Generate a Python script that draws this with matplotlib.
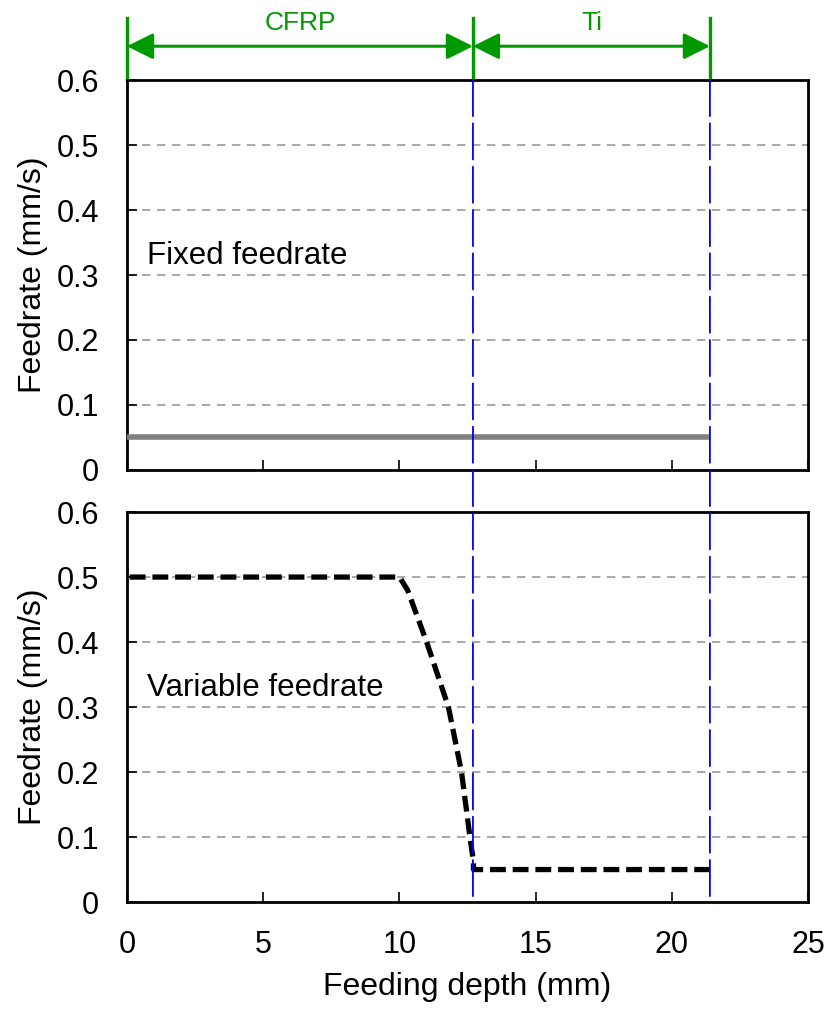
import matplotlib.pyplot as plt
from matplotlib.patches import ConnectionPatch

plt.rcParams['font.family'] = ['Liberation Sans', 'DejaVu Sans']

# layer boundaries (mm)
cfrp_end = 12.7
ti_end = 21.4
layer_names = ['CFRP', 'Ti']

# fixed feedrate
fixed_x = [0, 21.4]
fixed_y = [0.05, 0.05]

# variable feedrate
var_x = [0.1, 10.0, 10.3, 11.0, 11.8, 12.28, 12.59, 12.72, 12.72, 21.4]
var_y = [0.5, 0.5, 0.48, 0.40, 0.30, 0.20, 0.10, 0.062, 0.05, 0.05]

yticks = [0, 0.1, 0.2, 0.3, 0.4, 0.5, 0.6]
ytick_labels = ['0', '0.1', '0.2', '0.3', '0.4', '0.5', '0.6']
xticks = [0, 5, 10, 15, 20, 25]

fig = plt.figure(figsize=(8.34, 10.09), dpi=100)
ax1 = fig.add_axes([0.1523, 0.5342, 0.8165, 0.3865])
ax2 = fig.add_axes([0.1523, 0.1060, 0.8165, 0.3865])

for ax in (ax1, ax2):
    ax.set_xlim(0, 25)
    ax.set_ylim(0, 0.6)
    ax.set_yticks(yticks)
    ax.set_yticklabels(ytick_labels)
    ax.set_xticks(xticks)
    for y in yticks[1:-1]:
        ax.axhline(y, color='#999999', lw=1.2, ls=(0, (5, 4)), zorder=1)
    for s in ax.spines.values():
        s.set_linewidth(2)
    ax.tick_params(direction='in', length=7, width=1.2, labelsize=22)
    ax.tick_params(axis='y', pad=20)
    ax.tick_params(axis='x', pad=20)
    ax.set_ylabel('Feedrate (mm/s)', fontsize=23, labelpad=6)

ax1.tick_params(labelbottom=False)
ax2.set_xlabel('Feeding depth (mm)', fontsize=23, labelpad=9)

ax1.plot(fixed_x, fixed_y, color='#808080', lw=4, solid_capstyle='butt', zorder=3)
ax2.plot(var_x, var_y, color='black', lw=3.8, ls=(0, (3, 1.3)), zorder=3)

ax1.text(0.73, 0.33, 'Fixed feedrate', fontsize=22.5, va='center')
ax2.text(0.73, 0.33, 'Variable feedrate', fontsize=22.5, va='center')

# blue boundary lines through both panels
for xb in (cfrp_end, ti_end):
    con = ConnectionPatch(xyA=(xb, 0.6), coordsA=ax1.transData,
                          xyB=(xb, 0), coordsB=ax2.transData,
                          color='blue', lw=1.3, ls=(0, (20, 4)), zorder=5)
    fig.add_artist(con)

# green layer annotation above top panel
green = '#009900'
bounds = [0, cfrp_end, ti_end]
for xb in bounds:
    ax1.plot([xb, xb], [0.6, 0.695], color=green, lw=2.4, clip_on=False)
for i, name in enumerate(layer_names):
    x0, x1 = bounds[i], bounds[i + 1]
    ax1.annotate('', xy=(x1, 0.652), xytext=(x0, 0.652), xycoords='data',
                 annotation_clip=False,
                 arrowprops=dict(arrowstyle='<|-|>', color=green, lw=2.2,
                                 mutation_scale=40, shrinkA=0, shrinkB=0))
    ax1.text((x0 + x1) / 2, 0.688, name, color=green, fontsize=19,
             ha='center', va='center')

fig.savefig('out.png', dpi=100)
